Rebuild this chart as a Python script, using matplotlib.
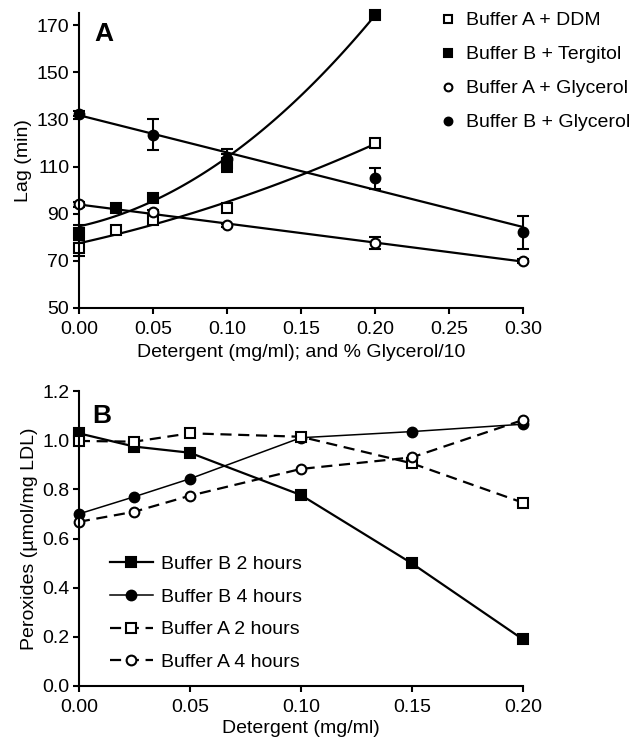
import matplotlib.pyplot as plt
import numpy as np

plt.rcParams['font.family'] = ['Liberation Sans', 'DejaVu Sans']

# panel A: lag time
xa = [0.0, 0.025, 0.05, 0.1, 0.2]
ddm = [75.4, 83.0, 87.5, 92.5, 120.0]
ddm_err = [3.5, 0.8, 0.8, 1.0, 1.0]
terg = [82.0, 92.3, 96.5, 111.5, 174.5]
terg_err = [3.0, 0.8, 0.8, 4.0, 0.8]

xg = [0.0, 0.05, 0.1, 0.2, 0.3]
a_gly = [94.0, 90.5, 85.0, 77.5, 70.0]
a_gly_err = [1.0, 1.0, 0.8, 2.5, 0.8]
b_gly = [132.5, 123.5, 113.0, 105.0, 82.2]
b_gly_err = [1.0, 6.5, 4.5, 4.5, 7.0]

# panel B: peroxides
xb = [0.0, 0.025, 0.05, 0.1, 0.15, 0.2]
b2h = [1.028, 0.974, 0.949, 0.777, 0.499, 0.19]
b4h = [0.70, 0.77, 0.843, 1.01, 1.035, 1.065]
a2h = [0.997, 0.994, 1.028, 1.014, 0.906, 0.746]
a4h = [0.668, 0.709, 0.774, 0.883, 0.93, 1.082]

fig = plt.figure(figsize=(6.36, 7.42), dpi=100)
axA = fig.add_axes([0.124, 0.585, 0.698, 0.397])
axB = fig.add_axes([0.124, 0.0755, 0.698, 0.3975])

k = 'black'
ms = 7
fs = 14

def style(ax):
    for s in ['top', 'right']:
        ax.spines[s].set_visible(False)
    for s in ['left', 'bottom']:
        ax.spines[s].set_linewidth(1.5)
    ax.tick_params(direction='out', length=4.5, width=1.5, labelsize=fs, color=k, pad=2.5)
    ax.tick_params(axis='x', pad=5)

# fitted curves
xs = np.linspace(0, 0.2, 100)
xl = np.linspace(0, 0.3, 100)
axA.plot(xs, np.polyval(np.polyfit(xa, ddm, 2), xs), color=k, lw=1.6)
axA.plot(xs, np.polyval(np.polyfit(xa, terg, 2), xs), color=k, lw=1.6)
axA.plot(xl, np.polyval(np.polyfit(xg, a_gly, 1), xl), color=k, lw=1.6)
axA.plot(xl, np.polyval(np.polyfit(xg, b_gly, 1), xl), color=k, lw=1.6)

eb = dict(ls='none', ecolor=k, elinewidth=1.5, capsize=4, capthick=1.5,
          markeredgecolor=k, markeredgewidth=1.5, ms=ms, clip_on=False)
axA.errorbar(xa, ddm, yerr=ddm_err, marker='s', mfc='white', label='Buffer A + DDM', **eb)
axA.errorbar(xa, terg, yerr=terg_err, marker='s', mfc=k, label='Buffer B + Tergitol', **eb)
axA.errorbar(xg, a_gly, yerr=a_gly_err, marker='o', mfc='white', label='Buffer A + Glycerol', **eb)
axA.errorbar(xg, b_gly, yerr=b_gly_err, marker='o', mfc=k, label='Buffer B + Glycerol', **eb)

axA.set_xlim(0, 0.3)
axA.set_ylim(50, 175)
axA.set_xticks(np.arange(0, 0.31, 0.05))
axA.set_xticklabels(['0.00', '0.05', '0.10', '0.15', '0.20', '0.25', '0.30'])
axA.set_yticks(np.arange(50, 171, 20))
axA.set_xlabel('Detergent (mg/ml); and % Glycerol/10', fontsize=fs, labelpad=4)
axA.set_ylabel('Lag (min)', fontsize=fs, labelpad=3)
style(axA)
axA.text(0.035, 0.97, 'A', transform=axA.transAxes, fontsize=19, fontweight='bold', va='top')

hA, lA = axA.get_legend_handles_labels()
hA = [h[0] for h in hA]
axA.legend(hA, lA, loc='upper left', bbox_to_anchor=(0.815, 1.005), frameon=False,
           fontsize=fs, handlelength=0.8, handletextpad=0.5, labelspacing=0.84,
           markerscale=0.8, borderaxespad=0, borderpad=0)

# panel B
pk = dict(color=k, ms=ms, mec=k, mew=1.5, clip_on=False)
axB.plot(xb, b2h, '-', marker='s', mfc=k, lw=1.6, label='Buffer B 2 hours', **pk)
axB.plot(xb, b4h, '-', marker='o', mfc=k, lw=1.1, label='Buffer B 4 hours', **pk)
axB.plot(xb, a2h, '--', marker='s', mfc='white', lw=1.6, dashes=(5, 3), label='Buffer A 2 hours', **pk)
axB.plot(xb, a4h, '--', marker='o', mfc='white', lw=1.6, dashes=(5, 3), label='Buffer A 4 hours', **pk)

axB.set_xlim(0, 0.2)
axB.set_ylim(0, 1.2)
axB.set_xticks(np.arange(0, 0.21, 0.05))
axB.set_xticklabels(['0.00', '0.05', '0.10', '0.15', '0.20'])
axB.set_yticks(np.arange(0, 1.21, 0.2))
axB.set_yticklabels(['0.0', '0.2', '0.4', '0.6', '0.8', '1.0', '1.2'])
axB.set_xlabel('Detergent (mg/ml)', fontsize=fs, labelpad=3)
axB.set_ylabel('Peroxides (\u00b5mol/mg LDL)', fontsize=fs, labelpad=3)
style(axB)
axB.text(0.03, 0.955, 'B', transform=axB.transAxes, fontsize=19, fontweight='bold', va='top')
axB.legend(loc='lower left', bbox_to_anchor=(0.07, 0.05), frameon=False, fontsize=fs,
           handlelength=2.2, handletextpad=0.45, labelspacing=0.78, borderaxespad=0,
           borderpad=0)

fig.savefig('out.png', dpi=100)
